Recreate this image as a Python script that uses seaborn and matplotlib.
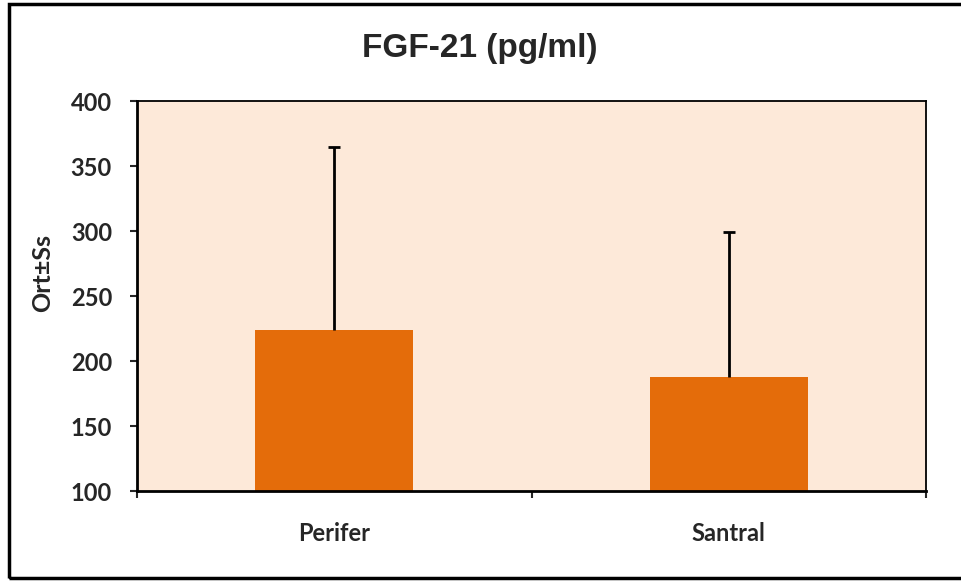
import matplotlib
matplotlib.use("Agg")
import matplotlib.pyplot as plt
import seaborn as sns
from matplotlib.patches import Rectangle

categories = ["Perifer", "Santral"]
means = [223.8, 187.4]
sds = [141.0, 111.8]
y_ticks = [100, 150, 200, 250, 300, 350, 400]

sns.set_style("white")
plt.rcParams["font.family"] = ["Lato", "DejaVu Sans"]

fig = plt.figure(figsize=(9.61, 5.83), dpi=100)
ax = fig.add_axes([137 / 961, 1 - 491 / 583, 789 / 961, 390 / 583])
ax.set_facecolor("#FDE9D9")

sns.barplot(x=categories, y=means, color="#E46C0A", saturation=1, width=0.4,
            linewidth=0, ax=ax)
# Excel-style: only the upper half of the error bar
eb = ax.errorbar(range(len(categories)), means, yerr=[[0] * len(sds), sds], fmt="none",
                 ecolor="black", elinewidth=2, capsize=4.5, capthick=2, zorder=3)
eb[1][0].set_visible(False)  # drop the lower cap sitting on the bar

ax.set_ylim(100, 400)
ax.set_xlim(-0.5, 1.5)
ax.set_yticks(y_ticks)
ax.set_yticklabels([str(t) for t in y_ticks], fontsize=17, fontweight="bold")
ax.tick_params(axis="y", direction="out", length=5, width=1.5, pad=13, left=True)

# boundary ticks without labels, category labels on minor ticks
ax.set_xticks([-0.5, 0.5, 1.5])
ax.set_xticklabels([])
ax.set_xticks([0, 1], minor=True)
ax.set_xticklabels(categories, minor=True, fontsize=17, fontweight="bold")
ax.tick_params(axis="x", which="major", direction="out", length=5, width=1.5, bottom=True)
ax.tick_params(axis="x", which="minor", length=0, pad=22)

for side in ["left", "bottom"]:
    ax.spines[side].set_linewidth(2)
    ax.spines[side].set_color("black")
for side in ["top", "right"]:
    ax.spines[side].set_linewidth(1.3)
    ax.spines[side].set_color("black")

ax.set_ylabel("Ort±Ss", fontsize=18, fontweight="bold")
ax.yaxis.set_label_coords(-0.105, 0.56)
ax.set_xlabel("")

fig.text(480 / 961, 1 - 48 / 583, "FGF-21 (pg/ml)", ha="center", va="center",
         fontsize=24, fontweight="bold", family=["Liberation Sans", "DejaVu Sans"])

# outer frame around the chart
fig.patches.append(Rectangle((8.5 / 961, 1 - 578 / 583), 1.0, (578 - 3.5) / 583,
                             transform=fig.transFigure, fill=False,
                             edgecolor="black", linewidth=2.5, clip_on=False))

fig.savefig("out.png", dpi=100)
